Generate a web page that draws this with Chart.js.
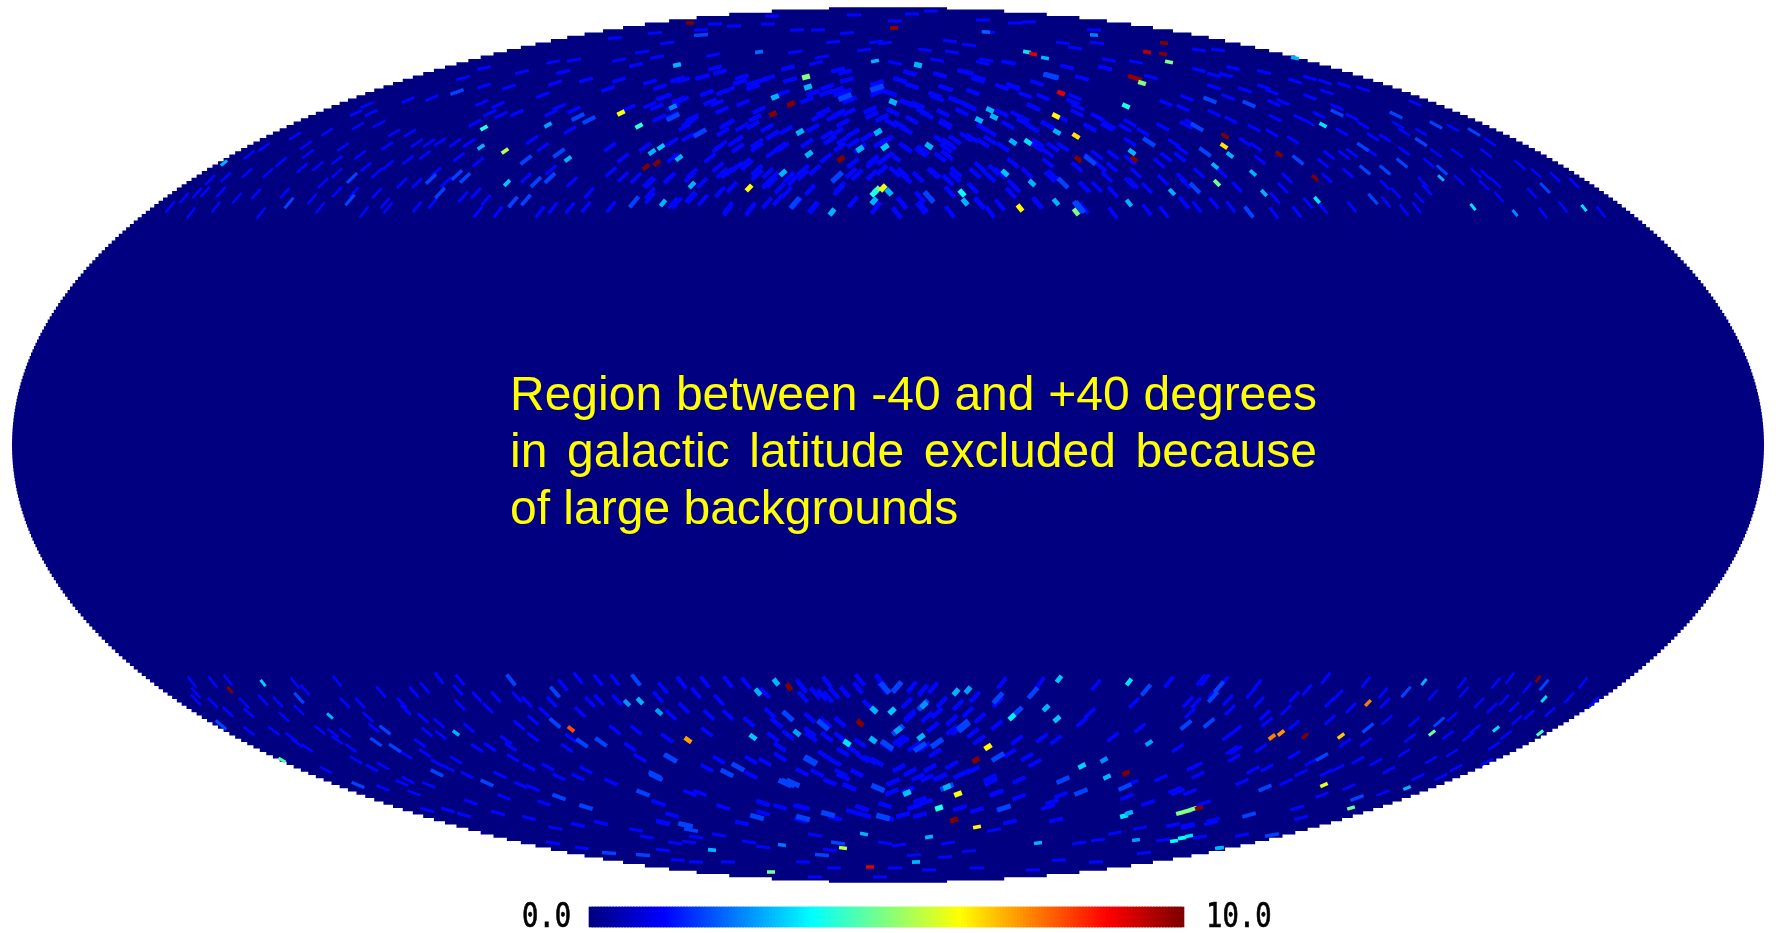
<!DOCTYPE html>
<html>
<head>
<meta charset="utf-8">
<style>
  html, body { margin: 0; background: #fff; }
  canvas { display: block; filter: blur(0.6px); }
</style>
<script src="https://cdn.jsdelivr.net/npm/chart.js@4"></script>
</head>
<body>
<canvas id="sky" width="1776" height="933"></canvas>
<script>
// Sky map readings, in map units from the centre of the projection: [u, v, value]
const hotNorth = [
  [-404,317,4],[-383,294,5.5],[-407,298,3],[-340,320,2.8],[-320,286,3],[-381,262,3.2],[-664,282,3],
  [-198,422,10],[6,417,9.8],[139,393,3.5],[145,391,9],[157,387,3],[276,402,10],[275,391,10],[259,393,9.5],
  [281,383,5],[244,368,9.8],[250,366,9.8],[254,362,5],[173,352,9],[238,339,4],[168,329,6.3],[188,309,6.5],
  [169,313,3],[190,286,10],[246,286,10],[244,293,3],[-82,368,5],[-80,358,3],[-113,348,3],[-97,341,10],
  [-115,331,10],[-267,332,6.2],[-249,319,4.2],[-215,338,2.5],[-227,298,3.2],[-236,293,3],[-209,287,3],
  [-231,282,10],[-242,278,10],[-211,380,3],[-79,291,3],[-88,313,3],[-47,286,10],[-10,313,3],[5,343,3],
  [-3,298,3.2],[41,299,3],[-28,296,3],[30,380,3],[-13,384,3],[102,335,3],[106,328,3],[91,325,3],[125,303,3],
  [140,303,3.5],[-196,260,3],[-139,257,6.3],[-105,272,3],[-225,242,3],[-11,255,4.8],[-5,257,6],[-14,252,4],
  [1,253,3],[-14,244,3],[74,252,3.8],[77,243,3],[-56,233,3],[117,272,3.2],[144,262,3],[132,237,6.3],
  [188,233,5],[284,253,3],[241,242,3],[168,243,3],[206,410,2.5],[98,413,2.2],[-129,393,2.3],
  [337,309,10],[336,299,6.5],[342,290,3],[327,279,3],[329,262,4.8],[391,291,10],[427,267,10],[435,320,3.5],
  [407,387,3],[429,245,3.5],[365,272,3],[376,252,3],[553,267,3],[585,238,3.5],[696,237,3.5],[627,232,2.6]
];
const hotSouth = [
  [-658,-245,10],[-625,-238,3.3],[-558,-271,3],[-432,-288,3],[-317,-284,8],[-200,-295,7.2],[-606,-315,4.5],
  [-248,-256,3],[-261,-258,2.7],[-229,-267,2.8],[-99,-242,10],[-112,-237,3],[-130,-247,3],[-135,-292,3.2],
  [-91,-288,2.8],[-41,-298,3.5],[-15,-295,3],[-28,-278,10],[-14,-265,3],[4,-266,3.2],[10,-285,2.8],[33,-292,3],
  [68,-247,3],[80,-245,2.8],[36,-260,2.7],[171,-234,3.2],[241,-237,3.5],[124,-272,3.6],[158,-263,3],[169,-274,3.2],
  [100,-302,6.3],[88,-315,10],[194,-321,3.3],[219,-332,3],[216,-315,2.6],[238,-328,10],[261,-298,2.8],[70,-349,6.2],
  [59,-342,3],[19,-348,3.2],[51,-363,4],[89,-382,6.3],[66,-375,10],[-45,-403,5.5],[-24,-389,3],[41,-392,3],
  [150,-398,3],[-176,-405,3],[-117,-427,4.8],[-18,-422,9],[28,-417,3],[236,-371,3.5],[241,-368,3],[299,-366,5],
  [305,-364,5],[292,-368,5],[311,-363,10],[294,-393,3.8],[286,-396,3.8],[301,-391,3.5],[248,-395,2.8],[332,-403,3],
  [-106,-400,2.4],[480,-258,7.5],[384,-292,7.5],[393,-288,7.3],[417,-291,10],[453,-291,6.8],[436,-340,6],
  [463,-363,4.8],[544,-288,4.8],[519,-343,3],[536,-237,3],[608,-284,3.4],[656,-254,3.4],[652,-288,4.5],[650,-234,10],[331,-403,3]
];
// Brighter blue speckle, value about 1.9
const mediumNorth = [
  [-431,353],[-536,267],[-599,242],[-538,245],[-448,252],[-457,266],[-431,270],[-423,267],[-362,285],[-329,292],
  [-352,263],[-375,243],[-362,245],[-310,328],[-299,325],[-338,267],[-187,410],[-11,357],[164,369],[-215,328],
  [-188,312],[-43,348],[261,303],[-51,268],[175,262],[-254,243],[-93,242],[41,248],[190,238],[322,345],[361,341],
  [449,332],[309,318],[508,330],[548,320],[533,303],[475,298],[514,282],[497,275],[477,275],[410,285],[317,293],
  [307,257],[586,313],[554,275],[485,246],[361,233],[657,257],[162,369],[202,285],[192,238]
];
const mediumSouth = [
  [-667,-280],[-589,-253],[-503,-285],[-512,-297],[-493,-303],[-451,-328],[-530,-340],[-333,-278],[-377,-235],
  [-333,-247],[-252,-235],[-306,-298],[-287,-297],[-218,-313],[-233,-330],[-245,-348],[-203,-380],[-401,-338],
  [-329,-352],[-302,-362],[-279,-408],[-245,-410],[-197,-385],[-217,-313],[-161,-328],[-150,-322],[-232,-332],
  [-131,-372],[-100,-338],[-77,-315],[76,-282],[129,-267],[145,-248],[-3,-243],[258,-245],[175,-335],[193,-347],
  [237,-342],[116,-363],[-202,-380],[-60,-369],[-50,-398],[-66,-410],[331,-242],[325,-252],[298,-280],[321,-278],
  [518,-247],[656,-240],[551,-277],[480,-283],[434,-312],[377,-343],[469,-353],[361,-370],[384,-390],
  [9,-242],[35,-260],[110,-253],[75,-280],[10,-285],[-1,-300],[32,-302],[49,-298],[59,-342],[110,-312],[-5,-372],
  [-85,-373],[-103,-338],[-95,-338],[-78,-316],[-100,-271],[-65,-280],[-10,-343]
];
// Faint blue speckle, value about 1.2
const faintNorth = [
  [-404,359],[-425,367],[-404,377],[-366,373],[-335,383],[-314,385],[-325,373],[-302,365],[-379,358],[-480,345],
  [-456,347],[-521,340],[-532,332],[-517,332],[-530,319],[-509,321],[-561,313],[-494,312],[-478,312],[-471,302],
  [-501,299],[-545,298],[-582,300],[-580,291],[-607,283],[-624,298],[-593,309],[-639,290],[-551,285],[-528,290],
  [-522,278],[-500,280],[-511,272],[-551,272],[-586,277],[-570,279],[-620,272],[-641,272],[-662,268],[-678,265],
  [-683,253],[-691,252],[-704,247],[-718,238],[-697,232],[-672,238],[-667,253],[-651,247],[-632,251],[-627,232],
  [-603,252],[-576,246],[-568,237],[-565,262],[-551,253],[-534,253],[-524,233],[-511,252],[-503,242],[-500,237],
  [-486,262],[-471,262],[-471,238],[-455,242],[-442,263],[-429,288],[-410,283],[-452,273],[-480,285],[-463,290],
  [-459,302],[-433,302],[-419,302],[-448,303],[-413,322],[-398,332],[-387,330],[-371,332],[-390,340],[-406,342],
  [-356,305],[-337,275],[-316,263],[-362,267],[-402,245],[-410,233],[-390,233],[-348,233],[-335,237],[-318,237],
  [-302,238],[-299,252],[-425,248],[-412,252],[-345,350],[-333,362],[-318,315],[-345,298],[-337,332],[-329,338],[-314,335],
  [-116,429],[-34,430],[7,424],[24,431],[43,434],[95,425],[127,422],[206,415],[-173,421],[-187,415],[-154,419],[-233,412],
  [-120,421],[-91,415],[-70,415],[-41,412],[100,413],[141,423],[62,404],[81,400],[-12,403],[-55,403],[-273,407],[-246,393],
  [-221,402],[-269,385],[-252,380],[-231,388],[-175,390],[-93,393],[-66,388],[-24,395],[-3,402],[37,395],[64,393],[98,385],
  [121,383],[175,402],[187,397],[209,402],[221,385],[248,383],[263,368],[217,377],[194,367],[125,358],[91,367],[76,373],
  [49,385],[7,382],[-43,373],[-72,382],[-100,377],[-120,367],[-146,368],[-173,377],[-185,368],[-210,366],[-238,363],
  [-269,365],[-280,356],[-11,352],[24,359],[49,347],[58,357],[114,358],[137,350],[187,348],[210,328],[190,338],[146,338],
  [278,342],[295,337],[-43,353],[-51,355],[-39,345],[-62,352],[-81,345],[-135,358],[-160,355],[-181,352],[-210,345],
  [-225,348],[-238,340],[-259,337],[-215,338],[-200,322],[-229,327],[-196,327],[-166,335],[-145,342],[-129,335],[-146,318],
  [-135,320],[-162,320],[-200,308],[-167,300],[-154,303],[-131,302],[-116,310],[-108,298],[-102,315],[-70,328],[-55,328],
  [-49,332],[-39,333],[-64,333],[-16,330],[5,333],[18,342],[30,340],[39,330],[3,322],[18,315],[58,322],[79,340],[114,332],
  [120,320],[135,327],[160,320],[144,317],[173,327],[202,317],[221,320],[242,322],[275,318],[255,313],[298,320],[286,302],
  [242,303],[-51,313],[-35,312],[-58,305],[-81,302],[-116,292],[-143,282],[-156,275],[-166,272],[-131,275],[-116,263],
  [-99,268],[-85,275],[-62,287],[-5,285],[7,288],[-16,282],[18,297],[33,293],[58,297],[60,302],[78,308],[95,302],[125,282],
  [106,275],[87,272],[150,302],[160,282],[175,298],[202,287],[225,290],[213,278],[248,272],[271,282],[278,288],[294,267],
  [-252,267],[-265,268],[-277,273],[-278,298],[-265,287],[-240,263],[-219,267],[-196,272],[-156,258],[-120,262],[-108,257],
  [-49,255],[-37,272],[-16,270],[7,273],[18,267],[47,272],[60,265],[68,273],[100,270],[125,260],[162,268],[196,258],[242,262],
  [259,257],[275,265],[297,262],[-277,238],[-238,252],[-211,242],[-196,247],[-160,235],[-137,237],[-110,245],[-74,237],
  [-35,243],[-12,237],[9,232],[14,242],[33,237],[62,233],[62,253],[91,242],[102,233],[112,240],[123,252],[150,242],[196,237],
  [225,232],[259,235],[276,233],[296,243],
  [311,395],[330,395],[345,377],[376,373],[311,375],[326,370],[338,370],[326,358],[357,355],[376,358],[299,347],[340,348],
  [384,353],[407,364],[422,367],[437,363],[456,360],[475,356],[439,353],[422,348],[395,343],[386,342],[449,338],[464,328],
  [431,330],[412,327],[420,323],[387,327],[326,332],[303,322],[343,325],[366,317],[384,312],[405,305],[357,303],[368,298],
  [475,320],[454,313],[485,308],[497,307],[527,342],[565,317],[533,313],[516,313],[510,320],[456,290],[464,292],[483,293],
  [516,294],[548,292],[569,292],[541,282],[460,272],[441,290],[435,282],[439,267],[399,267],[372,285],[294,295],[292,288],
  [311,272],[334,272],[349,258],[395,257],[602,303],[598,292],[588,272],[598,270],[608,262],[611,248],[596,260],[571,265],
  [539,255],[535,263],[497,260],[508,252],[498,243],[516,235],[529,237],[531,247],[464,238],[435,237],[420,242],[409,233],
  [386,232],[387,247],[343,238],[326,242],[309,238],[296,242],[644,252],[675,238],[655,232],[648,272],[667,268],[686,262],
  [713,233],[632,280],
  [-211,365],[-205,365],[-186,368],[-168,373],[-165,353],[-181,352],[-178,343],[-223,348],[-206,345],[-216,330],[-231,338],
  [-228,327],[-196,325],[-203,318],[-190,312],[-160,322],[-165,313],[-151,305],[-150,297],[-170,297],[-131,298],[-133,327],
  [-121,317],[-115,310],[-105,298],[-125,365],[-135,362],[-148,363],[-105,352],[-98,365],[-75,352],[-61,358],[-48,352],
  [-38,345],[-51,330],[-65,333],[-45,322],[-75,317],[-61,310],[-45,305],[-35,302],[-48,298],[-10,355],[-11,362],[-6,327],
  [-18,335],[-21,308],[-28,297],[-35,282],[-31,270],[-51,268],[-48,258],[-73,275],[-85,270],[-95,265],[-101,253],[-78,255],
  [-91,242],[-75,238],[-115,268],[-121,262],[-120,272],[-131,270],[-141,280],[-151,278],[-161,272],[-170,278],[-178,287],
  [-186,262],[-198,268],[-218,267],[-238,262],[-238,247],[-215,242],[-198,248],[-185,245],[-168,253],[-160,237],[-138,235],
  [-121,242],[-215,287],[-216,303],[-243,298],[-171,342],[-228,358],[-8,302],[-1,288],[-15,285],[-6,275],[-1,305],[-50,375],[-41,365],
  [120,382],[95,382],[125,359],[90,365],[85,353],[57,357],[52,370],[79,373],[12,365],[22,372],[2,352],[19,342],[25,340],[47,350],
  [67,345],[82,338],[35,333],[24,325],[12,320],[55,332],[74,333],[57,320],[95,317],[102,313],[84,307],[67,305],[52,305],[35,295],
  [17,298],[62,300],[59,290],[52,288],[15,272],[30,268],[45,272],[60,265],[67,268],[62,253],[32,248],[35,238],[14,242],[92,242],
  [85,257],[102,268],[112,272],[92,278],[125,282],[139,272],[127,258],[149,242],[165,270],[175,262],[160,292],[165,298],[189,278],
  [209,290],[224,278],[219,268],[209,258],[197,258],[225,253],[242,285],[245,262],[209,328],[202,318],[219,318],[237,317],[185,343],
  [145,338],[129,330],[135,323],[145,317],[159,320],[149,298],[115,298],[102,305],[189,332],[155,348],[179,378],[217,377],[149,362]
];
const faintSouth = [
  [-696,-237],[-675,-237],[-660,-235],[-692,-248],[-692,-255],[-675,-258],[-660,-267],[-639,-268],[-644,-258],[-639,-286],
  [-614,-286],[-625,-255],[-610,-257],[-589,-265],[-604,-272],[-593,-238],[-583,-245],[-551,-236],[-543,-258],[-528,-258],
  [-507,-247],[-474,-247],[-463,-243],[-486,-258],[-482,-265],[-520,-272],[-568,-285],[-555,-288],[-543,-288],[-514,-283],
  [-465,-273],[-449,-278],[-419,-283],[-461,-287],[-447,-290],[-597,-292],[-591,-298],[-581,-303],[-551,-295],[-537,-303],
  [-532,-315],[-482,-310],[-468,-298],[-463,-308],[-451,-318],[-440,-323],[-516,-323],[-505,-321],[-562,-325],[-505,-343],
  [-486,-338],[-474,-348],[-459,-340],[-480,-335],[-432,-315],[-411,-303],[-398,-302],[-377,-302],[-369,-280],[-355,-292],
  [-382,-295],[-336,-257],[-321,-303],[-317,-293],[-308,-267],[-344,-267],[-355,-275],[-361,-257],[-371,-252],[-392,-252],
  [-400,-263],[-411,-252],[-430,-245],[-428,-260],[-428,-235],[-449,-233],[-325,-240],[-310,-233],[-290,-235],[-273,-235],
  [-206,-238],[-225,-243],[-271,-255],[-289,-255],[-298,-257],[-273,-285],[-252,-285],[-258,-302],[-248,-313],[-229,-358],
  [-216,-370],[-277,-337],[-302,-325],[-310,-332],[-329,-332],[-340,-322],[-359,-322],[-375,-313],[-421,-330],[-388,-330],
  [-367,-340],[-384,-352],[-344,-358],[-417,-357],[-355,-343],[-390,-368],[-424,-370],[-440,-365],[-461,-365],[-359,-373],
  [-333,-383],[-310,-380],[-287,-378],[-335,-398],[-306,-403],[-252,-385],[-241,-392],[-225,-377],[-225,-405],[-210,-415],[-199,-397],
  [-230,-252],[-207,-237],[-192,-248],[-183,-237],[-160,-237],[-142,-238],[-169,-255],[-204,-263],[-217,-270],[-179,-270],
  [-160,-270],[-139,-277],[-181,-287],[-221,-293],[-181,-323],[-137,-315],[-137,-330],[-169,-315],[-198,-348],[-188,-348],
  [-230,-358],[-165,-362],[-125,-358],[-100,-290],[-112,-278],[-62,-278],[-77,-292],[-64,-310],[-47,-328],[-39,-342],[-10,-343],
  [-18,-315],[-35,-305],[-1,-302],[11,-295],[26,-302],[36,-302],[64,-285],[45,-282],[91,-295],[22,-270],[49,-268],[64,-275],
  [80,-267],[110,-257],[152,-238],[114,-238],[87,-252],[45,-243],[-20,-260],[-54,-248],[-73,-248],[-87,-240],[-8,-235],[24,-242],
  [208,-240],[281,-237],[313,-235],[336,-237],[325,-248],[300,-257],[246,-258],[202,-268],[194,-277],[225,-292],[252,-283],
  [290,-303],[168,-295],[154,-293],[129,-295],[110,-312],[139,-312],[147,-318],[122,-308],[244,-338],[239,-352],[164,-357],
  [173,-350],[131,-335],[103,-337],[108,-348],[131,-352],[160,-362],[76,-328],[53,-332],[30,-332],[11,-323],[26,-362],[38,-357],
  [-1,-373],[-24,-370],[-85,-362],[-87,-375],[-125,-368],[-146,-378],[-169,-390],[-192,-392],[-225,-378],[-213,-398],[-139,-397],
  [-125,-402],[-73,-390],[-3,-398],[11,-400],[60,-398],[81,-406],[106,-385],[122,-377],[168,-375],[191,-398],[210,-395],[227,-388],
  [260,-358],[290,-347],[305,-322],[348,-305],[252,-383],[325,-375],[300,-380],[-192,-417],[-160,-417],[-58,-405],[-73,-432],
  [-8,-432],[7,-423],[-54,-423],[-85,-417],[57,-412],[26,-410],[41,-425],[89,-423],[145,-425],[171,-415],[208,-417],[256,-408],
  [281,-237],[317,-235],[340,-255],[308,-258],[369,-240],[363,-248],[371,-257],[302,-268],[342,-265],[377,-270],[379,-277],
  [398,-265],[406,-252],[419,-245],[450,-250],[442,-257],[463,-263],[495,-248],[497,-258],[478,-237],[438,-233],[545,-250],
  [576,-247],[574,-238],[591,-258],[616,-255],[604,-263],[622,-233],[608,-238],[662,-267],[695,-238],[681,-253],[706,-257],
  [639,-243],[626,-262],[641,-270],[564,-272],[526,-277],[499,-275],[442,-275],[406,-280],[348,-285],[340,-291],[308,-321],
  [344,-305],[373,-303],[406,-310],[457,-298],[478,-297],[488,-317],[470,-315],[501,-325],[522,-293],[516,-308],[543,-315],
  [564,-308],[580,-292],[587,-284],[606,-301],[629,-275],[618,-290],[560,-290],[346,-313],[365,-325],[379,-323],[354,-337],
  [398,-337],[413,-328],[438,-328],[450,-323],[423,-317],[310,-330],[273,-333],[287,-345],[302,-347],[316,-358],[285,-380],
  [300,-382],[323,-378],[275,-395],[312,-392],[354,-390],[409,-363],[413,-373],[434,-350],[461,-342],[495,-348],[530,-332],
  [553,-332],[568,-323],[599,-317],
  [-5,-243],[35,-245],[19,-258],[54,-257],[70,-260],[22,-272],[39,-272],[69,-285],[109,-280],[92,-273],[85,-288],[15,-297],
  [47,-308],[64,-320],[42,-323],[22,-327],[5,-337],[39,-333],[20,-345],[4,-347],[32,-355],[52,-332],[72,-330],[85,-325],[102,-333],
  [109,-348],[115,-363],[89,-365],[72,-363],[32,-370],[15,-370],[-35,-367],[-53,-373],[-88,-362],[-108,-302],[-115,-292],[-111,-278],
  [-118,-268],[-85,-252],[-66,-250],[-60,-252],[-43,-247],[-30,-243],[-78,-273],[-48,-277],[-61,-292],[-78,-287],[-48,-292],[-28,-298],
  [-45,-307],[-25,-313],[-11,-317],[-31,-328],[-45,-332],[-58,-337],[-38,-342],[-53,-317],[-71,-328],[-86,-327],[-108,-312],[-123,-317],
  [-125,-358],[-108,-362],[-26,-363],[-3,-360],[-28,-235],[-61,-237],[-86,-242],[-123,-248]
];
const faintValue = 1.3;
const mediumValue = 1.9;

const mapHalfWidth = 876;
const mapHalfHeight = 438;
const pixelRow = 3.3;
const colorbarTicks = ['0.0', '10.0'];
const noteLines = [
  'Region between -40 and +40 degrees',
  'in galactic latitude excluded because',
  'of large backgrounds'
];

function jam(value) {
  const t = Math.min(1, Math.max(0, value / 10));
  const c = x => Math.round(255 * Math.min(1, Math.max(0, 1.5 - Math.abs(4 * t - x))));
  return `rgb(${c(3)},${c(2)},${c(1)})`;
}

// dashes follow the HEALPix rows: flat near the poles, steep close to the cut
function dashTilt(ctx) {
  const p = ctx.raw;
  const angle = Math.max(0, Math.min(52, 52 * (425 - Math.abs(p.y)) / 190));
  return (p.x * p.y > 0 ? 1 : -1) * angle;
}

// pixels get thin towards the wings and the poles
function dashWidth(base) {
  return ctx => {
    const p = ctx.raw;
    const wing = 1 - 0.45 * Math.min(1, Math.abs(p.x) / 550);
    const pole = Math.abs(p.y) > 380 ? 0.65 : 1;
    return base * Math.min(wing, pole);
  };
}

function speckle(rows, value, radius, width) {
  return {
    data: rows.map(r => ({ x: r[0], y: r[1], val: r[2] === undefined ? value : r[2] })),
    pointStyle: 'line',
    pointRadius: radius,
    pointHoverRadius: radius,
    pointBorderWidth: dashWidth(width),
    pointBorderColor: ctx => jam(ctx.raw.val),
    pointRotation: dashTilt,
    order: 1
  };
}

// outline of the map, in rows of sky pixels
const rows = [];
for (let v = 0; v < mapHalfHeight - 1; v += pixelRow) rows.push(v);
rows.push(437.8);
const halfWidthAt = v => mapHalfWidth * Math.sqrt(1 - (v / mapHalfHeight) ** 2);
const upperEdge = rows.map(v => ({ x: -halfWidthAt(v), y: v }))
  .concat(rows.slice().reverse().map(v => ({ x: halfWidthAt(v), y: v })));
const lowerEdge = upperEdge.map(p => ({ x: p.x, y: -p.y }));

const barLevels = [];
for (let i = 0; i <= 200; i++) barLevels.push(i / 20);

const textPlugin = {
  id: 'mapText',
  afterDatasetsDraw(chart) {
    const { ctx, scales: { x, y } } = chart;
    const left = x.getPixelForValue(-378);
    const right = x.getPixelForValue(429);
    ctx.save();
    ctx.fillStyle = '#ffff00';
    ctx.font = '48px "Liberation Sans"';
    ctx.textBaseline = 'alphabetic';
    noteLines.forEach((line, i) => {
      const words = line.split(' ');
      const base = y.getPixelForValue(35 - 57 * i);
      const widths = words.map(w => ctx.measureText(w).width);
      const total = widths.reduce((a, b) => a + b, 0);
      const gap = i < 2 ? (right - left - total) / (words.length - 1) : ctx.measureText(' ').width;
      let pos = left;
      words.forEach((w, j) => {
        ctx.fillText(w, pos, base);
        pos += widths[j] + gap;
      });
    });
    ctx.fillStyle = '#000';
    ctx.strokeStyle = '#000';
    ctx.lineWidth = 0.7;
    ctx.font = '34px "DejaVu Sans Mono"';
    [[colorbarTicks[0], -366], [colorbarTicks[1], 318]].forEach(([label, u]) => {
      ctx.save();
      ctx.translate(x.getPixelForValue(u), y.getPixelForValue(-482));
      ctx.scale(0.8, 1);
      ctx.fillText(label, 0, 0);
      ctx.strokeText(label, 0, 0);
      ctx.restore();
    });
    ctx.restore();
  }
};

new Chart(document.getElementById('sky'), {
  type: 'scatter',
  data: {
    datasets: [
      speckle(hotNorth, 0, 4, 5.5),
      speckle(hotSouth, 0, 4, 5.5),
      { ...speckle(mediumNorth, mediumValue, 7, 5.5), order: 2 },
      { ...speckle(mediumSouth, mediumValue, 7, 5.5), order: 2 },
      { ...speckle(faintNorth, faintValue, 7, 4.6), order: 3 },
      { ...speckle(faintSouth, faintValue, 7, 4.6), order: 3 },
      {
        data: upperEdge,
        showLine: true,
        stepped: 'middle',
        pointRadius: 0,
        borderWidth: 0,
        backgroundColor: jam(0),
        fill: '+1',
        order: 5
      },
      {
        data: lowerEdge,
        showLine: true,
        stepped: 'middle',
        pointRadius: 0,
        borderWidth: 0,
        fill: false,
        order: 6
      },
      {
        type: 'bar',
        data: barLevels.map(level => ({ x: -297 + 59.1 * level, y: [-482, -462], val: level })),
        backgroundColor: ctx => jam(ctx.raw ? ctx.raw.val : 0),
        barThickness: 4,
        order: 4
      }
    ]
  },
  plugins: [textPlugin],
  options: {
    responsive: false,
    animation: false,
    events: [],
    layout: { padding: 0, autoPadding: false },
    plugins: { legend: { display: false }, tooltip: { enabled: false } },
    scales: {
      x: { type: 'linear', display: false, min: -888, max: 888, offset: false, grid: { offset: false } },
      y: { type: 'linear', display: false, min: -488, max: 445, beginAtZero: false }
    }
  }
});
</script>
</body>
</html>
